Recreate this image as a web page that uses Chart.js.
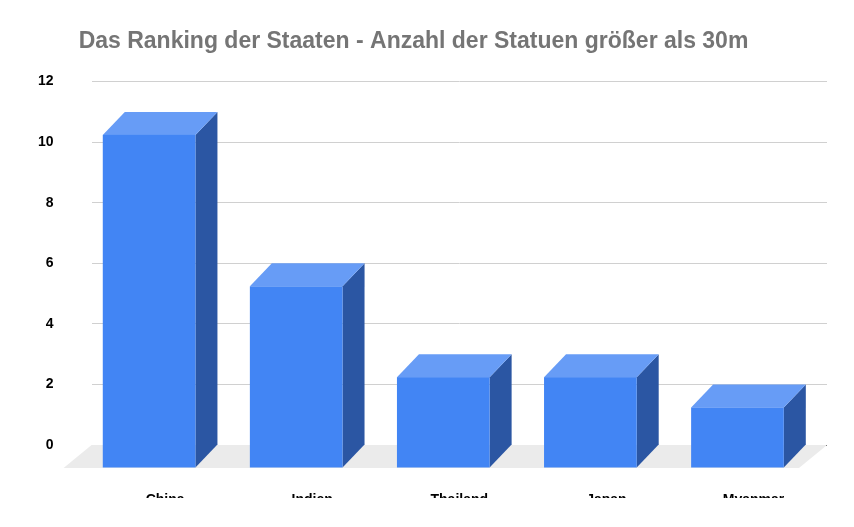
<!DOCTYPE html>
<html>
<head>
<meta charset="utf-8">
<script src="https://cdn.jsdelivr.net/npm/chart.js@4"></script>
<style>
  html, body { margin: 0; padding: 0; background: #fff; }
  #wrap { width: 854px; height: 527px; }
</style>
</head>
<body>
<div id="wrap"><canvas id="chart"></canvas></div>
<script>
const countries = ["China", "Indien", "Thailand", "Japan", "Myanmar"];
const statueCounts = [11, 6, 3, 3, 2];
const yTicks = [0, 2, 4, 6, 8, 10, 12];

// depth of the 3d boxes, in pixels
const DX = 22, DY = 23;

const box3d = {
  id: "box3d",
  beforeDatasetsDraw(chart) {
    const { ctx, chartArea } = chart;
    const y0 = chart.scales.y.getPixelForValue(0);
    ctx.save();
    ctx.fillStyle = "#ebebeb";
    ctx.beginPath();
    ctx.moveTo(chartArea.left, y0);
    ctx.lineTo(chartArea.right, y0);
    ctx.lineTo(chartArea.right - DX - 6, y0 + DY);
    ctx.lineTo(chartArea.left - DX - 6, y0 + DY);
    ctx.closePath();
    ctx.fill();
    ctx.restore();
  },
  afterDatasetsDraw(chart) {
    const { ctx } = chart;
    const meta = chart.getDatasetMeta(0);
    ctx.save();
    meta.data.forEach((bar) => {
      const w = bar.width;
      const bl = bar.x - w / 2 + 6;      // back face left
      const br = bl + w;
      const top = bar.y, base = bar.base;
      const fl = bl - DX, fr = br - DX;  // front face
      const ft = top + DY, fb = base + DY;
      // side
      ctx.fillStyle = "#2b56a3";
      ctx.beginPath();
      ctx.moveTo(fr, ft); ctx.lineTo(br, top); ctx.lineTo(br, base); ctx.lineTo(fr, fb);
      ctx.closePath(); ctx.fill();
      // top
      ctx.fillStyle = "#679cf6";
      ctx.beginPath();
      ctx.moveTo(fl, ft); ctx.lineTo(bl, top); ctx.lineTo(br, top); ctx.lineTo(fr, ft);
      ctx.closePath(); ctx.fill();
      // front
      ctx.fillStyle = "#4285f4";
      ctx.fillRect(fl, ft, w, fb - ft);
    });
    ctx.restore();
  }
};

new Chart(document.getElementById("chart"), {
  type: "bar",
  data: {
    labels: countries,
    datasets: [{
      data: statueCounts,
      backgroundColor: "rgba(0,0,0,0)",
      barPercentage: 0.63,
      categoryPercentage: 1
    }]
  },
  options: {
    responsive: true,
    maintainAspectRatio: false,
    animation: false,
    layout: { padding: { left: 0, right: 27, top: 10, bottom: 29 } },
    plugins: {
      legend: { display: false },
      tooltip: { enabled: false },
      title: {
        display: true,
        text: "Das Ranking der Staaten - Anzahl der Statuen größer als 30m",
        color: "#757575",
        font: { family: "Arial, Liberation Sans", size: 23, weight: "bold" },
        padding: { top: 18, bottom: 26 }
      }
    },
    scales: {
      x: {
        grid: { display: false },
        border: { display: false },
        afterFit: (scale) => { scale.height = 53; },
        ticks: {
          color: "#000",
          padding: 39,
          font: { family: "Arial, Liberation Sans", size: 14, weight: "bold" }
        }
      },
      y: {
        min: 0,
        max: 12,
        afterBuildTicks: (axis) => { axis.ticks = yTicks.map((v) => ({ value: v })); },
        grid: {
          drawTicks: false,
          color: (c) => (c.tick && c.tick.value === 0 ? "#333" : "#d0d0d0")
        },
        border: { display: false },
        ticks: {
          color: "#000",
          padding: 38,
          font: { family: "Arial, Liberation Sans", size: 14, weight: "bold" }
        }
      }
    }
  },
  plugins: [box3d]
});
</script>
</body>
</html>
